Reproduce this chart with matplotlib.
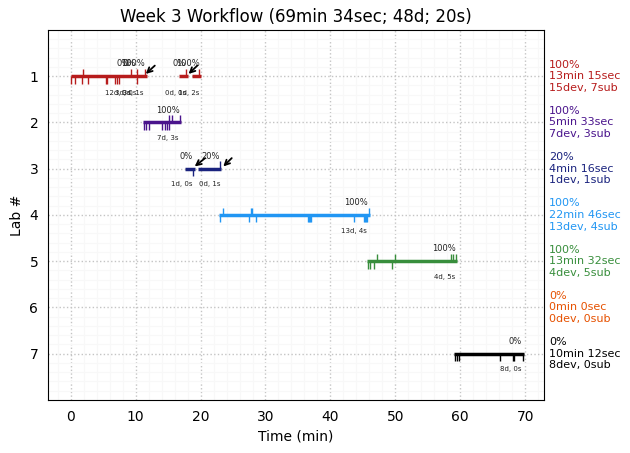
import matplotlib
matplotlib.use('Agg')
import matplotlib.pyplot as plt
import numpy as np

labs = [1, 2, 3, 4, 5, 6, 7]
colors = ['#b71c1c', '#4a148c', '#1a237e', '#2196f3', '#388e3c', '#e65100', 'black']

# one row per work segment: lab, start, end
seg_lab = [1, 1, 1, 2, 3, 3, 4, 5, 7]
seg_start = [0.0, 16.7, 18.7, 11.15, 17.6, 19.6, 22.9, 45.7, 59.1]
seg_end = [11.7, 18.0, 20.0, 17.05, 19.1, 23.2, 46.1, 59.5, 69.75]

# submissions point up, devices point down
sub_times = {1: [1.9, 9.3, 10.2, 11.4, 17.7, 19.8],
             2: [15.2, 15.6, 16.9],
             3: [23.0],
             4: [23.5, 27.75, 27.95, 45.9],
             5: [47.1, 50.0, 58.5, 58.9, 59.3],
             6: [],
             7: []}
dev_times = {1: [0.1, 0.6, 1.7, 2.7, 5.4, 5.6, 6.8, 7.1, 7.4, 10.2],
             2: [11.3, 11.6, 12.0, 14.1, 14.5, 14.9, 15.2],
             3: [18.9],
             4: [23.0, 27.5, 28.55, 36.6, 36.75, 36.9, 37.05, 43.7, 45.1, 45.3, 45.5, 45.7],
             5: [45.85, 46.15, 46.75, 49.5],
             6: [],
             7: [59.25, 59.5, 59.8, 66.1, 68.05, 68.35, 69.6]}

# progress text above, days and seconds below
pct_text = ['0%', '0%', '100%', '0%', '100%', '100%', '0%', '20%', '100%', '100%', '0%']
pct_x = [8.0, 9.0, 9.6, 16.7, 18.0, 15.0, 17.7, 21.5, 44.0, 57.5, 68.4]
pct_y = [0.83, 0.83, 0.83, 0.83, 0.83, 1.83, 2.83, 2.83, 3.83, 4.83, 6.83]
span_text = ['12d, 3s', '3d, 0s', '0d, 1s', '0d, 1s', '0d, 2s', '7d, 3s', '1d, 0s', '0d, 1s', '13d, 4s', '4d, 5s', '8d, 0s']
span_x = [7.2, 8.5, 9.5, 16.1, 18.15, 15.0, 17.07, 21.4, 43.7, 57.6, 67.8]
span_y = [1.36, 1.36, 1.36, 1.36, 1.36, 2.34, 3.33, 3.33, 4.356, 5.35, 7.34]

# checkpoint arrows, tail and head
arrow_x = [12.95, 19.5, 20.7, 24.8]
arrow_y = [0.77, 0.77, 2.77, 2.77]
arrow_to_x = [11.56, 18.15, 19.1, 23.5]
arrow_to_y = [0.95, 0.95, 2.95, 2.95]

side_pct = ['100%', '100%', '20%', '100%', '100%', '0%', '0%']
side_time = ['13min 15sec', '5min 33sec', '4min 16sec', '22min 46sec', '13min 32sec', '0min 0sec', '10min 12sec']
side_count = ['15dev, 7sub', '7dev, 3sub', '1dev, 1sub', '13dev, 4sub', '4dev, 5sub', '0dev, 0sub', '8dev, 0sub']

fig, ax = plt.subplots(figsize=(6.3, 4.53), dpi=100)

for lab, s, e in zip(seg_lab, seg_start, seg_end):
    ax.plot([s, e], [lab, lab], color=colors[lab - 1], lw=2.5, solid_capstyle='butt', zorder=3)

for lab in labs:
    c = colors[lab - 1]
    ax.vlines(sub_times[lab], lab - 0.16, lab, color=c, lw=1, zorder=3)
    ax.vlines(dev_times[lab], lab, lab + 0.16, color=c, lw=1, zorder=3)
    ax.text(1.01, lab, side_pct[lab - 1] + '\n' + side_time[lab - 1] + '\n' + side_count[lab - 1],
            transform=ax.get_yaxis_transform(), color=c, fontsize=8, va='center', ha='left')

for t, x, y in zip(pct_text, pct_x, pct_y):
    ax.text(x, y, t, fontsize=6, ha='center', va='bottom', color='#222222')
for t, x, y in zip(span_text, span_x, span_y):
    ax.text(x, y, t, fontsize=5, ha='center', va='center', color='#222222')

for x, y, tx, ty in zip(arrow_x, arrow_y, arrow_to_x, arrow_to_y):
    ax.annotate('', xy=(tx, ty), xytext=(x, y),
                arrowprops=dict(arrowstyle='->', color='black', lw=1.3, shrinkA=0, shrinkB=0, mutation_scale=9), zorder=4)

ax.set_xlim(-3.5, 72.9)
ax.set_ylim(8, 0)
ax.set_yticks(labs)
ax.set_xticks(np.arange(0, 71, 10))
ax.set_xticks(np.arange(-2, 73, 2), minor=True)
ax.set_yticks(np.arange(0.2, 8, 0.2), minor=True)
ax.grid(True, which='major', color='#c4c4c4', ls=':', lw=1, zorder=0)
ax.grid(True, which='minor', color='#f8f8f8', ls='-', lw=0.8, zorder=0)
ax.set_axisbelow(True)
ax.tick_params(which='both', length=0, pad=7)
ax.set_xlabel('Time (min)')
ax.set_ylabel('Lab #')
ax.set_title('Week 3 Workflow (69min 34sec; 48d; 20s)')

fig.subplots_adjust(left=0.0762, right=0.8635, top=0.9338, bottom=0.117)
fig.savefig('out.png', dpi=100)
